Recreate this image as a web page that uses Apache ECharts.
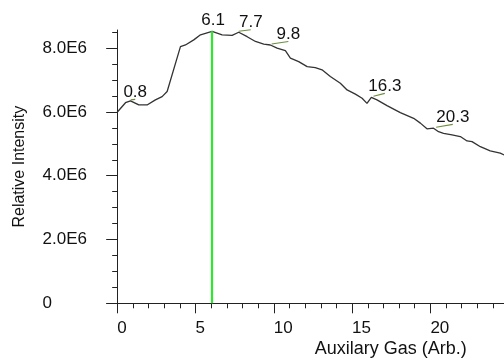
<!DOCTYPE html>
<html><head><meta charset="utf-8">
<script src="https://cdn.jsdelivr.net/npm/echarts@6/dist/echarts.min.js"></script>
<style>html,body{margin:0;padding:0;background:#fff}#c{width:504px;height:358px}</style>
</head><body><div id="c"></div>
<script>
// ---- data ----
const gasX = [0.00,0.53,0.85,1.38,1.91,2.44,2.87,3.19,4.04,4.36,4.89,5.32,6.06,6.70,7.34,7.76,8.30,8.83,9.36,9.78,
  10.21,10.74,11.06,11.59,12.13,12.65,13.08,13.61,14.25,14.68,15.21,15.64,15.95,16.23,16.59,17.23,18.08,18.93,19.36,19.78,
  20.20,20.52,20.84,21.38,21.91,22.34,22.66,23.19,23.82,24.46,24.72];
const intensity = [5.99,6.29,6.35,6.22,6.22,6.38,6.48,6.64,8.05,8.10,8.26,8.42,8.53,8.42,8.40,8.50,8.36,8.21,8.13,8.10,
  8.00,7.92,7.69,7.58,7.42,7.39,7.32,7.11,6.90,6.69,6.56,6.43,6.27,6.46,6.38,6.20,5.98,5.80,5.65,5.47,
  5.49,5.38,5.33,5.28,5.23,5.09,5.07,4.91,4.78,4.71,4.65].map(v => v * 1e6);
const peakX = [0.8, 6.1, 7.7, 9.8, 16.3, 20.3];
const peakY = [6.35e6, 8.53e6, 8.50e6, 8.10e6, 6.46e6, 5.49e6];
const peakLabels = ['0.8', '6.1', '7.7', '9.8', '16.3', '20.3'];
const markerX = 6.03;
const markerY = 8.53e6;
const xTickValues = [0, 5, 10, 15, 20];
const xTickLabels = ['0', '5', '10', '15', '20'];
const xMinorValues = [1,2,3,4,6,7,8,9,11,12,13,14,16,17,18,19,21,22,23,24];
const yTickValues = [0, 2e6, 4e6, 6e6, 8e6];
const yTickLabels = ['0', '2.0E6', '4.0E6', '6.0E6', '8.0E6'];
const yMinorValues = [0.5e6,1e6,1.5e6,2.5e6,3e6,3.5e6,4.5e6,5e6,5.5e6,6.5e6,7e6,7.5e6,8.5e6];
const xName = 'Auxilary Gas (Arb.)';
const yName = 'Relative Intensity';

// ---- layout / style ----
const labelDx = [5.5, 0.4, 13, 17.7, 12.4, 17.7];
const labelDy = [-8.9, -10.9, -10, -11, -11.4, -11.3];
const FONT = '"Liberation Sans", Arial, Helvetica, sans-serif';
const AX = '#222';

const chart = echarts.init(document.getElementById('c'), null, {renderer: 'canvas'});
const X_MIN = -0.65, X_MAX = 24.7, Y_MIN = 0, Y_MAX = 8.57e6;

chart.setOption({
  animation: false,
  backgroundColor: '#fff',
  grid: {left: 107, right: 0, top: 30, bottom: 54.7, containLabel: false, outerBoundsMode: 'none'},
  xAxis: [{
    type: 'value', min: X_MIN, max: X_MAX,
    axisLine: {show: true, onZero: true, lineStyle: {color: AX, width: 1}},
    axisTick: {show: true, customValues: xTickValues, length: 10, lineStyle: {color: AX}},
    axisLabel: {show: true, customValues: xTickValues, align: 'left', margin: 17, color: '#111', fontSize: 17, fontFamily: FONT,
      formatter: v => { const i = xTickValues.indexOf(v); return i >= 0 ? xTickLabels[i] : ''; }},
    splitLine: {show: false},
    name: xName, nameLocation: 'end', nameGap: -37.3,
    nameTextStyle: {align: 'right', verticalAlign: 'top', padding: [37, 0, 0, 0], color: '#111', fontSize: 18, fontFamily: FONT}
  }, {
    type: 'value', min: X_MIN, max: X_MAX, position: 'bottom',
    axisLine: {show: false, onZero: true},
    axisTick: {show: true, customValues: xMinorValues, length: 5, lineStyle: {color: AX}},
    axisLabel: {show: false}, splitLine: {show: false}
  }],
  yAxis: [{
    type: 'value', min: Y_MIN, max: Y_MAX, position: 'left',
    axisLine: {show: true, onZero: true, lineStyle: {color: AX, width: 1}},
    axisTick: {show: true, customValues: yTickValues, length: 11, lineStyle: {color: AX}},
    axisLabel: {show: true, customValues: yTickValues, align: 'left', margin: 64.5, color: '#111', fontSize: 17, fontFamily: FONT,
      formatter: v => { const i = yTickValues.indexOf(v); return i >= 0 ? yTickLabels[i] : ''; }},
    splitLine: {show: false},
    name: yName, nameLocation: 'middle', nameGap: 79,
    nameTextStyle: {color: '#111', fontSize: 16, fontFamily: FONT}
  }, {
    type: 'value', min: Y_MIN, max: Y_MAX, position: 'left',
    axisLine: {show: false, onZero: true},
    axisTick: {show: true, customValues: yMinorValues, length: 5, lineStyle: {color: AX}},
    axisLabel: {show: false}, splitLine: {show: false}
  }],
  series: [{
    type: 'line', xAxisIndex: 0, yAxisIndex: 0,
    data: gasX.map((x, i) => [x, intensity[i]]),
    showSymbol: false, symbol: 'none', clip: true,
    lineStyle: {color: '#333', width: 1.3},
    markLine: {
      silent: true, symbol: 'none', label: {show: false},
      lineStyle: {color: '#2ee82e', width: 2.2, type: 'solid'},
      data: [[{coord: [markerX, Y_MIN]}, {coord: [markerX, markerY]}]]
    },
    z: 3
  }, {
    type: 'custom', xAxisIndex: 0, yAxisIndex: 0, clip: false, z: 4,
    data: peakX.map((x, i) => [x, peakY[i]]),
    renderItem: function (params, api) {
      const i = params.dataIndex;
      const p = api.coord([api.value(0), api.value(1)]);
      const cx = p[0] + labelDx[i], cy = p[1] + labelDy[i];
      const children = [];
      if (Math.abs(labelDx[i]) > 2) {
        children.push({type: 'line', shape: {x1: p[0] + 1, y1: p[1] - 1, x2: cx, y2: cy + 7.5},
          style: {stroke: '#6e8f3e', lineWidth: 1.2}});
      }
      children.push({type: 'text', x: cx, y: cy,
        style: {text: peakLabels[i], fill: '#111', font: '17px ' + FONT, align: 'center', verticalAlign: 'middle'}});
      return {type: 'group', children: children};
    }
  }]
});
</script>
</body></html>
